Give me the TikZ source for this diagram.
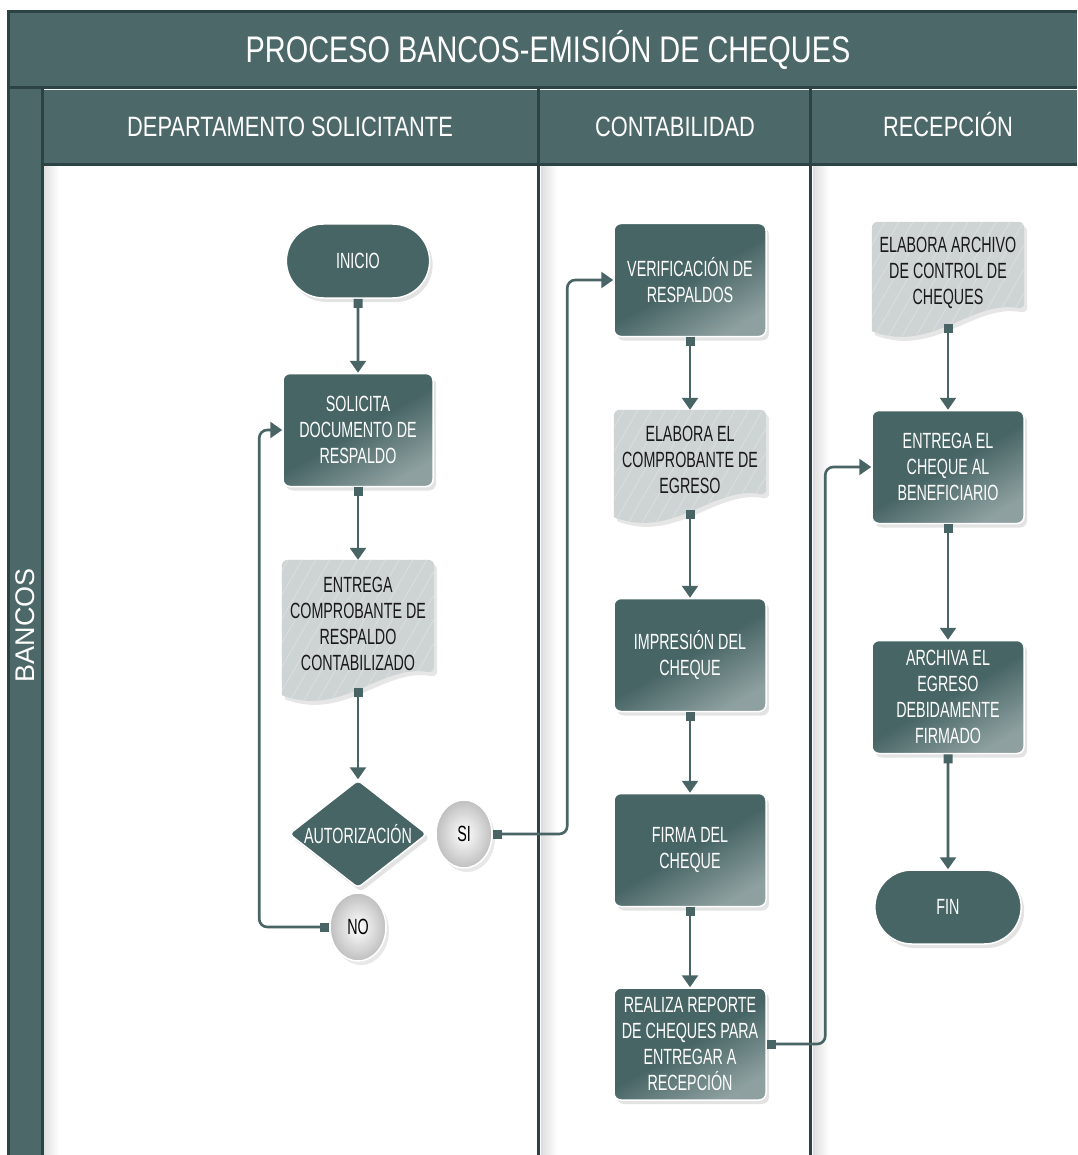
\documentclass[tikz,border=0pt]{standalone}
\usepackage{fontspec}
\setmainfont{Liberation Sans}
\newfontfamily\titlefont{Liberation Sans}[FakeStretch=0.78]
\newfontfamily\boxfont{Liberation Sans}[FakeStretch=0.65]
\usepackage{tikz}
\usetikzlibrary{arrows.meta,shapes,calc,shadows,patterns.meta}
\usepackage{xcolor}
\definecolor{hdrc}{RGB}{76,104,105}
\definecolor{sepc}{RGB}{45,66,66}
\definecolor{boxc}{RGB}{72,101,101}
\definecolor{docc}{RGB}{206,211,211}
\definecolor{flowc}{RGB}{72,100,100}
\pgfdeclarelayer{back}
\pgfsetlayers{back,main}

\begin{document}
\begin{tikzpicture}[x=1pt, y=-1pt,
		sep/.style={draw=sepc, line width=3pt},
		hdr/.style={anchor=base, text=white, font=\titlefont\fontsize{28}{32}\selectfont},
		proc/.style={rectangle, rounded corners=7, minimum width=152, minimum height=113,
			align=center, text=white, font=\boxfont\fontsize{22}{26}\selectfont,
			top color=boxc, bottom color=boxc!62!white, middle color=boxc, shading angle=30,
			draw=white, line width=1.5pt,
			drop shadow={shadow xshift=3pt, shadow yshift=-4pt, opacity=.22}},
		term/.style={rounded rectangle, minimum width=150, minimum height=74,
			text=white, font=\boxfont\fontsize{22}{26}\selectfont, fill=boxc,
			draw=white, line width=1.5pt,
			drop shadow={shadow xshift=3pt, shadow yshift=-4pt, opacity=.22}},
		decision/.style={diamond, aspect=1.28, minimum width=138, minimum height=108,
			inner sep=0pt, rounded corners=4, text=white,
			font=\boxfont\fontsize{22}{26}\selectfont, fill=boxc, draw=white, line width=1.5pt,
			drop shadow={shadow xshift=3pt, shadow yshift=-4pt, opacity=.22}},
		conn/.style={ellipse, minimum width=56, minimum height=68, inner sep=0pt,
			inner color=white, outer color=black!25, draw=white, line width=1.5pt,
			font=\boxfont\fontsize{22}{26}\selectfont,
			drop shadow={shadow xshift=3pt, shadow yshift=-4pt, opacity=.18}},
		doc/.style={rectangle, minimum width=152, align=center, text=black!90,
			font=\boxfont\fontsize{22}{26}\selectfont},
		docshape/.style={drop shadow={shadow xshift=3pt, shadow yshift=-4pt, opacity=.2},
			preaction={fill=docc}, pattern={Lines[angle=60, distance=12pt, line width=1pt]},
			pattern color=white!22!docc},
		flow/.style={draw=flowc, line width=2.6pt, rounded corners=8,
			arrows={Square[length=9pt,width=9pt]-Triangle[length=12pt,width=16pt]}}]
	\useasboundingbox (0,0) rectangle (1077,1155);

	% Marco del diagrama {{{
	\fill[hdrc] (8,12) rectangle (1077,88);
	\fill[hdrc] (8,88) rectangle (42,1155);
	\fill[hdrc] (42,90) rectangle (1077,165);
	\foreach \x in {43,541,813} {
		\shade[left color=black!13, right color=white] (\x,166) rectangle (\x+16,1155);
	}
	\draw[sep] (8,1155) -- (8,12) -- (1077,12);
	\draw[sep] (8,88) -- (1077,88);
	\draw[sep] (42,88) -- (42,1155);
	\draw[sep] (42,165) -- (1077,165);
	\foreach \x in {538,810} \draw[sep] (\x,88) -- (\x,1155);

	\node[anchor=base, text=white, font=\titlefont\fontsize{37}{40}\selectfont] (titulo) at (548,63)
		{PROCESO BANCOS-EMISIÓN DE CHEQUES};
	\node[rotate=90, text=white, font=\fontsize{27}{30}\selectfont] (bancos) at (25,625) {BANCOS};
	\node[hdr] (hdep) at (290,137) {DEPARTAMENTO SOLICITANTE};
	\node[hdr] (hcon) at (675,137) {CONTABILIDAD};
	\node[hdr] (hrec) at (948,137) {RECEPCIÓN};
	% }}}

	% Departamento solicitante {{{
	\node[term] (inicio) at (358,261) {INICIO};
	\node[proc, minimum width=150] (solicita) at (358,430) {SOLICITA\\DOCUMENTO DE\\RESPALDO};
	\node[doc, minimum height=128] (entrega) at (358,624) {ENTREGA\\COMPROBANTE DE\\RESPALDO\\CONTABILIZADO};
	\node[decision] (autoriza) at (358,834) {AUTORIZACIÓN};
	\node[conn] (si) at (464,834) {SI};
	\node[conn] (no) at (358,927) {NO};
	% }}}

	% Contabilidad {{{
	\node[proc] (verifica) at (690,280) {VERIFICACIÓN DE\\RESPALDOS};
	\node[doc, minimum height=100] (egreso) at (690,460) {ELABORA EL\\COMPROBANTE DE\\EGRESO};
	\node[proc] (impresion) at (690,655) {IMPRESIÓN DEL\\CHEQUE};
	\node[proc] (firma) at (690,850) {FIRMA DEL\\CHEQUE};
	\node[proc, minimum height=112] (reporte) at (690,1044) {REALIZA REPORTE\\DE CHEQUES PARA\\ENTREGAR A\\RECEPCIÓN};
	% }}}

	% Recepcion {{{
	\node[doc, minimum height=102] (archivo) at (948,273) {ELABORA ARCHIVO\\DE CONTROL DE\\CHEQUES};
	\node[proc] (entcheque) at (948,467) {ENTREGA EL\\CHEQUE AL\\BENEFICIARIO};
	\node[proc] (archiva) at (948,697) {ARCHIVA EL\\EGRESO\\DEBIDAMENTE\\FIRMADO};
	\node[term, minimum width=153] (fin) at (948,907) {FIN};
	% }}}

	% Documentos (fondo) {{{
	\begin{pgfonlayer}{back}
		\foreach \d in {entrega,egreso,archivo} {
			\path[docshape] ($(\d.south west)+(0,7)$) [rounded corners=6] -- (\d.north west)
				-- (\d.north east) -- ($(\d.south east)+(0,-15)$) [sharp corners]
				.. controls +(-53,-10) and +(60,23) .. ($(\d.south west)+(0,7)$) -- cycle;
		}
	\end{pgfonlayer}
	% }}}

	% Flujo {{{
	\draw[flow] (inicio) -- (solicita);
	\draw[flow] (solicita) -- (entrega);
	\draw[flow] (entrega.south) -- (autoriza.north);
	\draw[flow] (si.east) -| ($(verifica.west)+(-46,0)$) -- (verifica.west);
	\draw[flow] (no.west) -| ($(solicita.west)+(-23,0)$) -- (solicita.west);
	\draw[flow] (verifica) -- (egreso);
	\draw[flow] (egreso.south) -- (impresion.north);
	\draw[flow] (impresion) -- (firma);
	\draw[flow] (firma) -- (reporte);
	\draw[flow] (reporte.east) -| ($(entcheque.west)+(-46,0)$) -- (entcheque.west);
	\draw[flow] (archivo.south) -- (entcheque.north);
	\draw[flow] (entcheque) -- (archiva);
	\draw[flow] (archiva) -- (fin);
	% }}}
\end{tikzpicture}
\end{document}
